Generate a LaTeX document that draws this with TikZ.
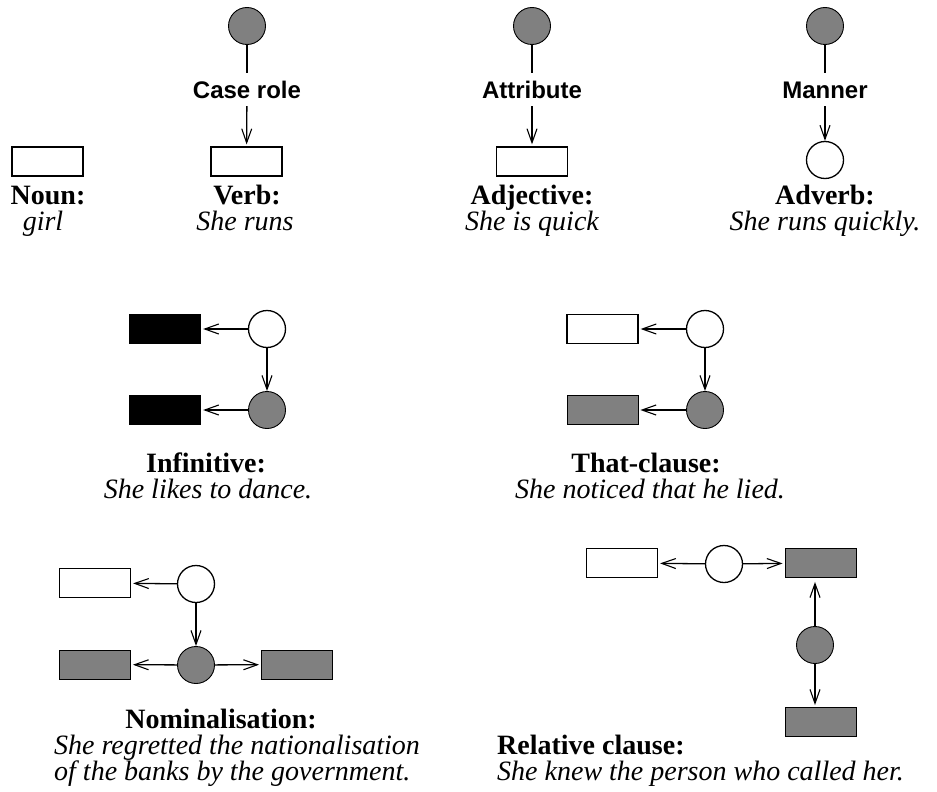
\documentclass[tikz,border=0pt]{standalone}
\usepackage{fontspec}
\setmainfont{Liberation Serif}
\newfontfamily\lsans{Liberation Sans}
\usetikzlibrary{arrows.meta}
\definecolor{fillgray}{HTML}{808080}
\tikzset{
 box/.style={draw, line width=1.3pt, minimum width=71pt, minimum height=29pt, inner sep=0pt},
 wbox/.style={box, fill=white},
 gbox/.style={box, line width=0.9pt, fill=fillgray},
 kbox/.style={box, fill=black},
 circ/.style={circle, draw, line width=1.3pt, minimum size=37pt, inner sep=0pt},
 wcirc/.style={circ, fill=white},
 gcirc/.style={circ, line width=0.9pt, fill=fillgray},
 arr/.style={line width=1.3pt, -{Straight Barb[length=14pt,width=10pt,line width=1.1pt]}, shorten >=2pt},
 ln/.style={line width=1.3pt},
 rel/.style={font=\lsans\bfseries\fontsize{24}{28}\selectfont, inner xsep=2pt, inner ysep=8pt, text height=17pt, text depth=0pt, anchor=base},
 hd/.style={font=\bfseries\fontsize{28}{30}\selectfont, inner sep=0pt, anchor=base},
 ex/.style={font=\itshape\fontsize{28}{30}\selectfont, inner sep=0pt, anchor=base},
}
\begin{document}
\begin{tikzpicture}[x=1pt,y=-1pt]
\useasboundingbox[fill=white] (0,0) rectangle (937,792);
% Noun
\node[wbox] (nr) at (47.5,161.5) {};
\node[hd] (nh) at (48,204) {Noun:};
\node[ex] (ne) at (43,230) {girl};
% Verb
\node[gcirc] (vc) at (247,26) {};
\node[rel] (vl) at (247,98) {Case role};
\node[wbox] (vr) at (246.5,161.5) {};
\draw[ln] (vc) -- (vl);
\draw[arr] (vl) -- (vr);
\node[hd] (vh) at (247,204) {Verb:};
\node[ex] (ve) at (245,230) {She runs};
% Adjective
\node[gcirc] (ac) at (532,26) {};
\node[rel] (al) at (532,98) {Attribute};
\node[wbox] (ar) at (532,161.5) {};
\draw[ln] (ac) -- (al);
\draw[arr] (al) -- (ar);
\node[hd] (ah) at (532,204) {Adjective:};
\node[ex] (ae) at (532,230) {She is quick};
% Adverb
\node[gcirc] (dc) at (825,26) {};
\node[rel] (dl) at (825,98) {Manner};
\node[wcirc] (dr) at (825,160) {};
\draw[ln] (dc) -- (dl);
\draw[arr, shorten >=0pt] (dl) -- (dr);
\node[hd] (dh) at (825,204) {Adverb:};
\node[ex] (de) at (825,230) {She runs quickly.};
% Infinitive
\node[kbox] (ir1) at (165,329) {};
\node[kbox] (ir2) at (165,410) {};
\node[wcirc] (ic1) at (267,329) {};
\node[gcirc] (ic2) at (267,410) {};
\draw[arr] (ic1) -- (ir1);
\draw[arr, shorten >=0pt] (ic1) -- (ic2);
\draw[arr] (ic2) -- (ir2);
\node[hd] (ih) at (206,472) {Infinitive:};
\node[ex] (ie) at (208,498) {She likes to dance.};
% That-clause
\node[wbox] (tr1) at (602.5,329) {};
\node[gbox] (tr2) at (602.5,410) {};
\node[wcirc] (tc1) at (705,329) {};
\node[gcirc] (tc2) at (705,410) {};
\draw[arr] (tc1) -- (tr1);
\draw[arr, shorten >=0pt] (tc1) -- (tc2);
\draw[arr] (tc2) -- (tr2);
\node[hd] (th) at (646,472) {That-clause:};
\node[ex] (te) at (650,498) {She noticed that he lied.};
% Nominalisation
\node[wbox] (mr1) at (95,583) {};
\node[gbox] (mr2) at (95,664.5) {};
\node[gbox] (mr3) at (297,664.5) {};
\node[wcirc] (mc1) at (196,584) {};
\node[gcirc] (mc2) at (196,665) {};
\draw[arr] (mc1) -- (mr1);
\draw[arr, shorten >=0pt] (mc1) -- (mc2);
\draw[arr] (mc2) -- (mr2);
\draw[arr] (mc2) -- (mr3);
\node[hd] (mh) at (221,728) {Nominalisation:};
\node[ex, anchor=base west] (me1) at (54,754) {She regretted the nationalisation};
\node[ex, anchor=base west] (me2) at (54,780) {of the banks by the government.};
% Relative clause
\node[wbox] (rr1) at (622,563) {};
\node[gbox] (rr2) at (820.5,563) {};
\node[gbox] (rr3) at (820.5,722) {};
\node[wcirc] (rc1) at (724,564) {};
\node[gcirc] (rc2) at (815,645) {};
\draw[arr] (rc1) -- (rr1);
\draw[arr] (rc1) -- (rr2);
\draw[arr, shorten >=4pt] (rc2) -- (rc2 |- rr2.south);
\draw[arr] (rc2) -- (rc2 |- rr3.north);
\node[hd, anchor=base west] (rh) at (497,754) {Relative clause:};
\node[ex, anchor=base west] (re) at (497,780) {She knew the person who called her.};
\end{tikzpicture}
\end{document}
